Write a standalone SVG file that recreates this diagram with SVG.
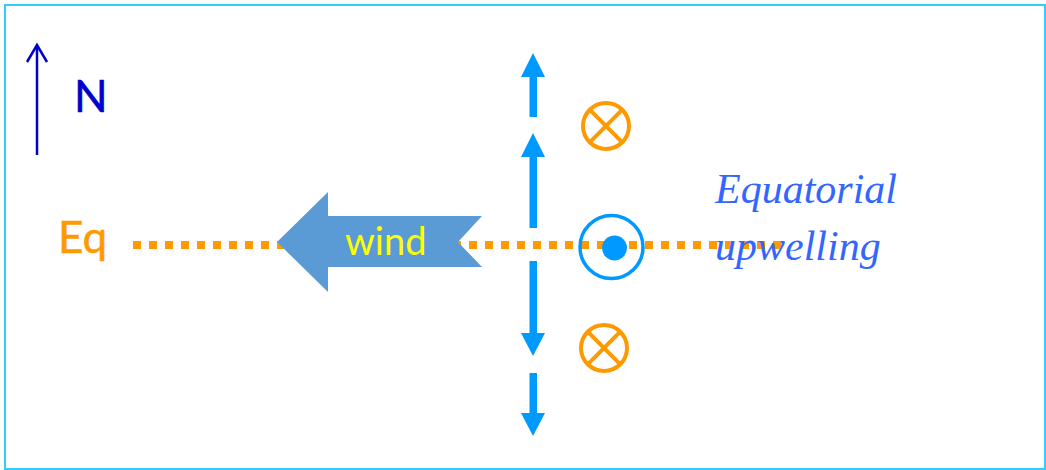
<svg xmlns="http://www.w3.org/2000/svg" width="1046" height="470" viewBox="0 0 1046 470">
  <defs>
    <style>
      .blue-arrow { fill: #0099FF; }
      .cross { fill: none; stroke: #FF9900; stroke-width: 4; }
      .label { font-family: Lato, "Open Sans", "Liberation Sans", sans-serif; }
    </style>
  </defs>
  <rect x="0" y="0" width="1046" height="470" fill="#FFFFFF"/>
  <rect x="5" y="5" width="1040" height="464" fill="none" stroke="#33CCFF" stroke-width="2"/>

  <g id="north">
    <line x1="37" y1="155" x2="37" y2="45" stroke="#0000CC" stroke-width="2.5"/>
    <polyline points="27,62 37,45 47,62" fill="none" stroke="#0000CC" stroke-width="2.5"/>
    <text class="label" x="74" y="112" font-size="44" fill="#0000CC" stroke="#0000CC" stroke-width="0.6">N</text>
  </g>

  <g id="connectors">
    <line x1="133" y1="245" x2="782" y2="245" stroke="#FF9900" stroke-width="8" stroke-dasharray="8 8"/>
  </g>

  <g id="eq">
    <text class="label" x="58" y="253" font-size="44" fill="#FF9900" stroke="#FF9900" stroke-width="0.5">Eq</text>
  </g>

  <g id="wind">
    <polygon points="277,242 328,192 328,216 482,216 458,242 482,267 328,267 328,292" fill="#5B9BD5"/>
    <text class="label" x="345" y="255" font-size="38" fill="#FFFF00">wind</text>
  </g>

  <g id="ekman-arrows">
    <rect class="blue-arrow" x="529.5" y="76" width="7.5" height="41"/>
    <polygon class="blue-arrow" points="521,77 533,53 545,77"/>
    <rect class="blue-arrow" x="529.5" y="156" width="7.5" height="72"/>
    <polygon class="blue-arrow" points="521,157 533,133 545,157"/>
    <rect class="blue-arrow" x="529.5" y="261" width="7.5" height="73"/>
    <polygon class="blue-arrow" points="521,333 533,356 545,333"/>
    <rect class="blue-arrow" x="529.5" y="373" width="7.5" height="41"/>
    <polygon class="blue-arrow" points="521,413 533,436 545,413"/>
  </g>

  <g id="into-page-north">
    <circle class="cross" cx="606" cy="126" r="23"/>
    <line class="cross" x1="589.7" y1="109.7" x2="622.3" y2="142.3"/>
    <line class="cross" x1="622.3" y1="109.7" x2="589.7" y2="142.3"/>
  </g>

  <g id="into-page-south">
    <circle class="cross" cx="604" cy="348" r="23"/>
    <line class="cross" x1="587.7" y1="331.7" x2="620.3" y2="364.3"/>
    <line class="cross" x1="620.3" y1="331.7" x2="587.7" y2="364.3"/>
  </g>

  <g id="out-of-page">
    <circle cx="611.5" cy="247" r="31.5" fill="none" stroke="#0099FF" stroke-width="3.5"/>
    <circle cx="614.5" cy="248" r="12.5" fill="#0099FF"/>
  </g>

  <g id="upwelling-label">
    <text font-family="'Liberation Serif', 'DejaVu Serif', serif" font-style="italic" font-size="42" fill="#3366FF">
      <tspan x="715" y="203">Equatorial</tspan>
      <tspan x="715" y="260">upwelling</tspan>
    </text>
  </g>
</svg>
